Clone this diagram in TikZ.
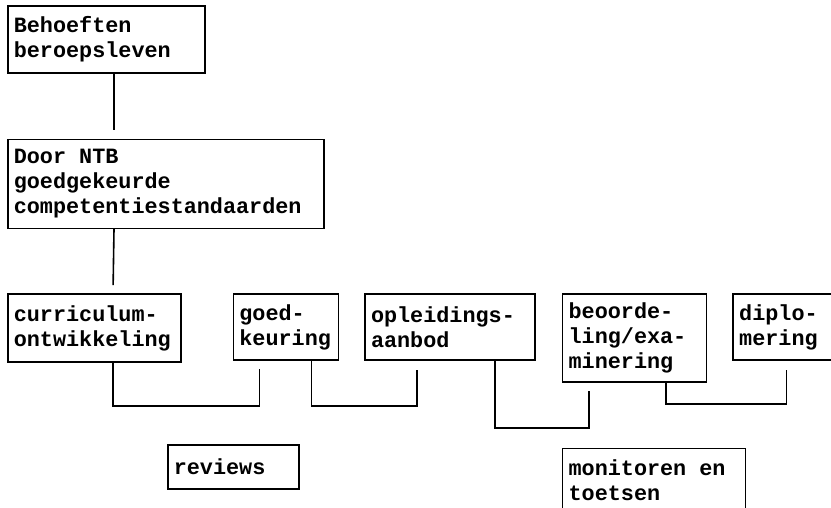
\documentclass[tikz,border=0pt]{standalone}
\usepackage{fontspec}
\setmonofont{Liberation Mono}
\usetikzlibrary{positioning}
\newcommand{\boxfont}{\ttfamily\bfseries\fontsize{21.8}{25}\selectfont}
\newcommand{\wsp}{\hspace{0.6em}}

\begin{document}
\begin{tikzpicture}[
         x=1pt, y=1pt,
         node distance=25pt,
         box/.style={draw, line width=1.6pt, anchor=north west, align=left,
            inner xsep=6pt, inner ysep=0pt, font=\boxfont},
         link/.style={line width=1.6pt}
      ]
         \useasboundingbox (0,0) rectangle (831,-507);

         % Nodes for the upper part
         \node[box, text width=185pt, minimum height=67pt] (beh) at (7,-5) {Behoeften\\beroepsleven};
         \node[box, text width=304pt, minimum height=89pt, below=65pt of beh.south west, anchor=north west] (ntb) {Door\wsp NTB\\goedgekeurde\\competentiestandaarden};

         % Nodes for the chain
         \node[box, text width=161pt, minimum height=68pt, below=64pt of ntb.south west, anchor=north west] (cur) {curriculum-\\ontwikkeling};
         \node[box, text width=93pt, minimum height=66pt, right=51pt of cur.north east, anchor=north west] (goed) {goed-\\keuring};
         \node[box, text width=158pt, minimum height=66pt, right=of goed.north east, anchor=north west] (opl) {opleidings-\\aanbod};
         \node[box, text width=132pt, minimum height=88pt, right=26pt of opl.north east, anchor=north west] (beo) {beoorde-\\ling/exa-\\minering};
         \node[box, text width=87pt, minimum height=66pt, right=of beo.north east, anchor=north west] (dip) {diplo-\\mering};

         % Nodes below the chain
         \node[box, text width=119pt, minimum height=44pt] (rev) at (167,-444) {reviews};
         \node[box, text width=171pt, minimum height=64pt, below=65pt of beo.south west, anchor=north west] (mon) {monitoren\wsp en\\toetsen};

         % Lines
         \draw[link, shorten >=9pt] ([xshift=107pt]beh.south west) -- ([xshift=107pt]ntb.north west);
         \draw[link, shorten >=8pt] ([xshift=107pt]ntb.south west) -- ([xshift=106pt]cur.north west);
         \draw[link, shorten >=8pt] ([xshift=106pt]cur.south west) -- ++(0,-43) -| ([xshift=27pt]goed.south west);
         \draw[link, shorten >=9pt] ([xshift=79pt]goed.south west) -- ++(0,-45) -| ([xshift=53pt]opl.south west);
         \draw[link, shorten >=8pt] ([xshift=131pt]opl.south west) -- ++(0,-67) -| ([xshift=27pt]beo.south west);
         \draw[link, shorten >=9pt] ([xshift=104pt]beo.south west) -- ++(0,-21) -| ([xshift=54pt]dip.south west);
      \end{tikzpicture}
\end{document}
